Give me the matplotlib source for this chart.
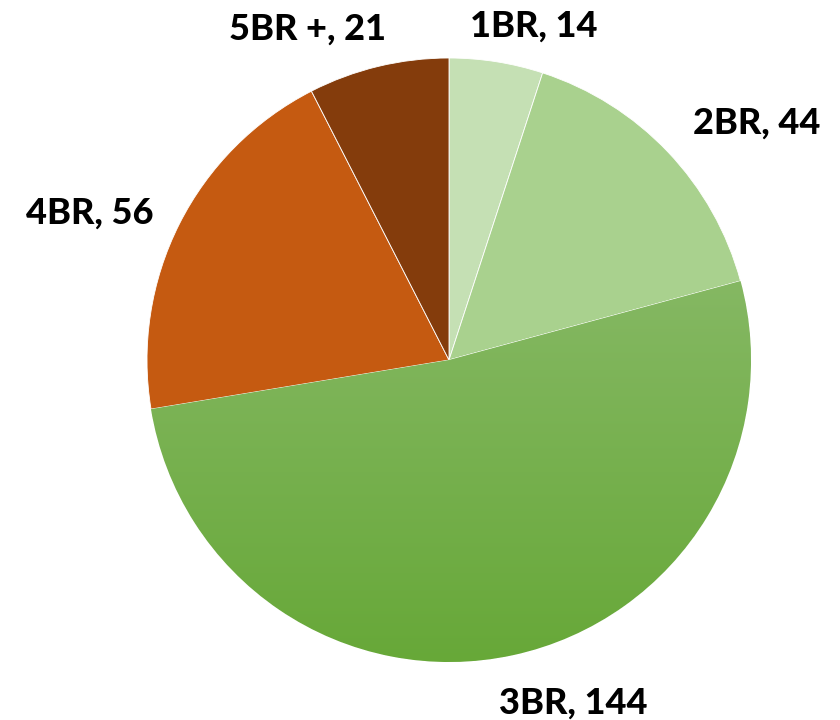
import numpy as np
import matplotlib.pyplot as plt
from matplotlib.colors import LinearSegmentedColormap

categories = ['1BR', '2BR', '3BR', '4BR', '5BR +']
counts = [14, 44, 144, 56, 21]
colors = ['#c5e0b4', '#a9d18e', '#76b04c', '#c55a11', '#843c0c']

# label baseline centres, relative to the pie centre in units of radius
label_offsets = [(0.28, 1.07), (1.02, 0.75), (0.41, -1.17), (-1.19, 0.45), (-0.47, 1.06)]

W, H = 840, 720
cx, cy, r = 449, H - 360, 302

fig = plt.figure(figsize=(8.4, 7.2), dpi=100)
ax = fig.add_axes([0, 0, 1, 1])

wedges, _ = ax.pie(counts, colors=colors, startangle=90, counterclock=False,
                   center=(cx, cy), radius=r, frame=True,
                   wedgeprops=dict(edgecolor='white', linewidth=0.6))
ax.set_xlim(0, W)
ax.set_ylim(0, H)
ax.set_aspect('equal')
ax.axis('off')

# vertical gradient fill on the big 3BR slice
big = wedges[2]
grad = LinearSegmentedColormap.from_list('g', ['#67a838', '#85b863'])
bb = big.get_path().get_extents(big.get_patch_transform())
img = np.linspace(0, 1, 256).reshape(-1, 1)
im = ax.imshow(img, cmap=grad, origin='lower', aspect='auto',
               extent=[bb.x0, bb.x1, bb.y0, bb.y1], zorder=big.get_zorder() + 0.1)
im.set_clip_path(big)

for cat, n, (dx, dy) in zip(categories, counts, label_offsets):
    ax.text(cx + dx * r, cy + dy * r, '{}, {}'.format(cat, n),
            ha='center', va='baseline', fontsize=26, fontweight='black',
            family='Lato', color='black')

fig.savefig('out.png', dpi=100)
